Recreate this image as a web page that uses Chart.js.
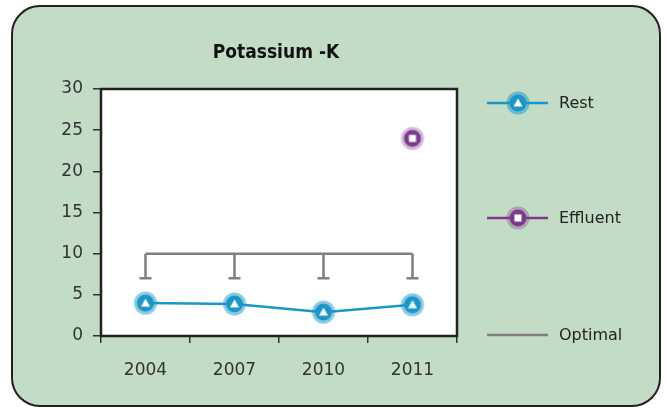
<!DOCTYPE html>
<html>
<head>
<meta charset="utf-8">
<script src="https://cdn.jsdelivr.net/npm/chart.js@4/dist/chart.umd.min.js"></script>
<style>
  html, body { margin: 0; padding: 0; background: #fff; }
  #wrap { width: 667px; height: 411px; }
</style>
</head>
<body>
<div id="wrap"><canvas id="chart" width="667" height="411"></canvas></div>
<script>
const years = ["2004", "2007", "2010", "2011"];
const rest = [4.0, 3.9, 2.9, 3.8];
const effluent = [null, null, null, 24];
const optimalHigh = [10, 10, 10, 10];
const optimalLow = [7, 7, 7, 7];
const yTicks = [0, 5, 10, 15, 20, 25, 30];

const blue = "#1a96c8";
const purple = "#7e3b8c";
const grey = "#7f7f7f";
const font = "'DejaVu Sans', sans-serif";

// marker pictures: haloed circle with a white symbol
function makeMarker(color, halo, shape) {
  const c = document.createElement("canvas");
  c.width = 26; c.height = 26;
  const g = c.getContext("2d");
  g.fillStyle = halo;
  g.beginPath(); g.arc(13, 13, 11.5, 0, Math.PI * 2); g.fill();
  g.fillStyle = color;
  g.beginPath(); g.arc(13, 13, 8.5, 0, Math.PI * 2); g.fill();
  g.fillStyle = "#fff";
  if (shape === "tri") {
    g.beginPath(); g.moveTo(13, 8.5); g.lineTo(17.5, 16.5); g.lineTo(8.5, 16.5); g.closePath(); g.fill();
  } else {
    g.fillRect(9.5, 9.5, 7, 7);
  }
  return c;
}
const restMarker = makeMarker(blue, "rgba(26,150,200,0.5)", "tri");
const effMarker = makeMarker(purple, "rgba(126,59,140,0.35)", "sq");

const panelPlugin = {
  id: "panel",
  beforeDraw(chart) {
    const ctx = chart.ctx;
    ctx.save();
    ctx.fillStyle = "#c3dcc6";
    ctx.strokeStyle = "#222";
    ctx.lineWidth = 2;
    ctx.beginPath();
    ctx.roundRect(12, 6, 648, 400, 28);
    ctx.fill();
    ctx.stroke();
    const a = chart.chartArea;
    ctx.fillStyle = "#fff";
    ctx.fillRect(a.left, a.top, a.right - a.left, a.bottom - a.top);
    ctx.fillStyle = "#111";
    ctx.font = "bold 19px 'DejaVu Sans Condensed', 'Liberation Sans Narrow', sans-serif";
    ctx.textAlign = "center";
    ctx.textBaseline = "middle";
    ctx.fillText("Potassium -K", 276, 53);
    ctx.restore();
  },
  beforeDatasetsDraw(chart) {
    // optimal range drops with tees
    const ctx = chart.ctx;
    const x = chart.scales.x, y = chart.scales.y;
    ctx.save();
    ctx.strokeStyle = grey;
    ctx.lineWidth = 2.5;
    years.forEach((yr, i) => {
      const px = x.getPixelForValue(i);
      const top = y.getPixelForValue(optimalHigh[i]);
      const bot = y.getPixelForValue(optimalLow[i]);
      ctx.beginPath();
      ctx.moveTo(px, top); ctx.lineTo(px, bot);
      ctx.moveTo(px - 6, bot); ctx.lineTo(px + 6, bot);
      ctx.stroke();
    });
    ctx.restore();
  },
  afterDraw(chart) {
    const ctx = chart.ctx;
    const a = chart.chartArea;
    ctx.save();
    ctx.strokeStyle = "#222";
    ctx.lineWidth = 2.5;
    ctx.strokeRect(a.left, a.top, a.right - a.left, a.bottom - a.top);
    // legend
    const items = [
      { label: "Rest", color: blue, marker: restMarker, y: 103 },
      { label: "Effluent", color: purple, marker: effMarker, y: 218 },
      { label: "Optimal", color: grey, marker: null, y: 335 }
    ];
    ctx.font = "16px " + font;
    ctx.textBaseline = "middle";
    ctx.textAlign = "left";
    items.forEach(it => {
      ctx.strokeStyle = it.color;
      ctx.lineWidth = 2.5;
      ctx.beginPath(); ctx.moveTo(487, it.y); ctx.lineTo(548, it.y); ctx.stroke();
      if (it.marker) ctx.drawImage(it.marker, 518 - 13, it.y - 13);
      ctx.fillStyle = "#222";
      ctx.fillText(it.label, 559, it.y + 1);
    });
    ctx.restore();
  }
};

new Chart(document.getElementById("chart"), {
  type: "line",
  data: {
    labels: years,
    datasets: [
      { label: "Optimal", data: optimalHigh, borderColor: grey, borderWidth: 2.5, pointRadius: 0, order: 3 },
      { label: "Rest", data: rest, borderColor: blue, borderWidth: 2.5, pointStyle: restMarker, pointRadius: 13, order: 2 },
      { label: "Effluent", data: effluent, borderColor: purple, borderWidth: 2.5, pointStyle: effMarker, pointRadius: 13, order: 1 }
    ]
  },
  options: {
    responsive: false,
    animation: false,
    layout: { padding: { left: 0, right: 210, top: 89, bottom: 0 } },
    plugins: { legend: { display: false }, tooltip: { enabled: false }, title: { display: false } },
    scales: {
      x: {
        offset: true,
        grid: { offset: true, drawOnChartArea: false, drawTicks: true, tickLength: 7, color: "#333", lineWidth: 1.5 },
        border: { display: false },
        ticks: { color: "#333", font: { size: 17, family: font }, padding: 17 },
        afterFit(s) { s.height = 75; }
      },
      y: {
        min: 0, max: 30,
        afterBuildTicks(s) { s.ticks = yTicks.map(v => ({ value: v })); },
        grid: { drawOnChartArea: false, drawTicks: true, tickLength: 8, color: "#333", lineWidth: 1.5 },
        border: { display: false },
        ticks: { color: "#333", font: { size: 17, family: font }, padding: 10 },
        afterFit(s) { s.width = 101; }
      }
    }
  },
  plugins: [panelPlugin]
});
</script>
</body>
</html>
